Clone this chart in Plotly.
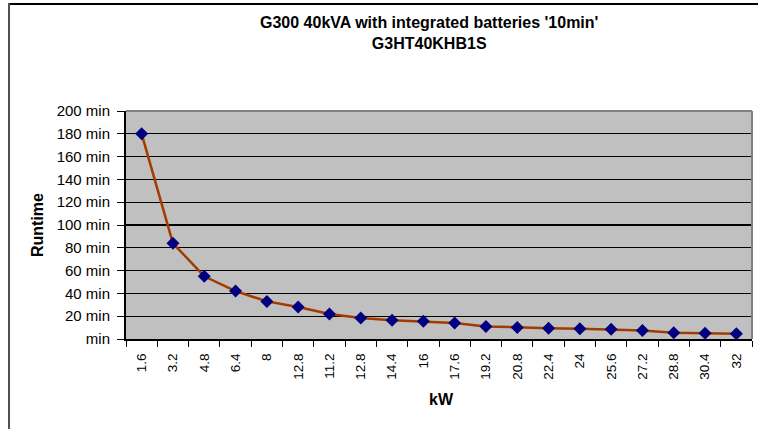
import plotly.graph_objects as go

kw_labels = ["1.6", "3.2", "4.8", "6.4", "8", "12.8", "11.2", "12.8", "14.4", "16",
             "17.6", "19.2", "20.8", "22.4", "24", "25.6", "27.2", "28.8", "30.4", "32"]
runtime_min = [180, 84, 55, 42, 33, 28, 22, 18.5, 16.5, 15.5,
               14, 11, 10, 9.5, 9, 8.5, 7.5, 5.5, 5, 4.5]
y_tick_vals = [0, 20, 40, 60, 80, 100, 120, 140, 160, 180, 200]
y_tick_text = ["min"] + [f"{v} min" for v in y_tick_vals[1:]]

x_idx = list(range(len(kw_labels)))

W, H = 758, 429
L, R, T, B = 126, 6, 111, 90
pw, ph = W - L - R, H - T - B

def px_x(x):
    return (x - L) / pw

def px_y(y):
    return (H - B - y) / ph

fig = go.Figure()
fig.add_trace(go.Scatter(
    x=x_idx, y=runtime_min, mode="lines+markers",
    line=dict(color="#A33A00", width=2.5),
    marker=dict(symbol="diamond", size=10, color="#000080"),
    showlegend=False, cliponaxis=False,
))

font = "Liberation Sans, Arial, sans-serif"
fig.update_layout(
    width=W, height=H,
    margin=dict(l=L, r=R, t=T, b=B),
    paper_bgcolor="white", plot_bgcolor="#C0C0C0",
    font=dict(family=font, color="black", size=12),
    xaxis=dict(
        range=[-0.5, len(kw_labels) - 0.5],
        tickmode="array", tickvals=x_idx, ticktext=kw_labels,
        tickangle=-90, ticks="", ticklen=0, ticklabelstandoff=7,
        showgrid=False, zeroline=False,
        showline=True, linecolor="black", linewidth=2,
        tickfont=dict(size=13.5),
        minor=dict(tickmode="array",
                   tickvals=[i - 0.5 for i in range(len(kw_labels) + 1)],
                   ticks="outside", ticklen=6, tickcolor="black", tickwidth=1,
                   showgrid=False),
        fixedrange=True,
    ),
    yaxis=dict(
        range=[0, 200],
        tickmode="array", tickvals=y_tick_vals, ticktext=y_tick_text,
        ticks="outside", ticklen=7, tickcolor="black", ticklabelstandoff=4,
        showgrid=True, gridcolor="black", gridwidth=1.3,
        zeroline=False,
        showline=True, linecolor="black", linewidth=2,
        tickfont=dict(size=15),
        fixedrange=True,
    ),
    shapes=[
        dict(type="line", xref="paper", yref="paper", x0=0, x1=1, y0=1, y1=1,
             line=dict(color="#808080", width=2)),
        dict(type="line", xref="paper", yref="paper", x0=1, x1=1, y0=0, y1=1,
             line=dict(color="#808080", width=2)),
        dict(type="line", xref="paper", yref="paper",
             x0=px_x(8), x1=px_x(W + 10), y0=px_y(4), y1=px_y(4),
             line=dict(color="black", width=2)),
        dict(type="line", xref="paper", yref="paper",
             x0=px_x(9), x1=px_x(9), y0=px_y(3), y1=px_y(H + 10),
             line=dict(color="#505050", width=2)),
    ],
    annotations=[
        dict(text="<b>G300 40kVA with integrated batteries '10min'<br>G3HT40KHB1S</b>",
             xref="paper", yref="paper", x=px_x(429), y=px_y(32.5),
             xanchor="center", yanchor="middle", showarrow=False,
             font=dict(size=16, family=font)),
        dict(text="<b>kW</b>", xref="paper", yref="paper",
             x=px_x(441), y=px_y(399), xanchor="center", yanchor="middle",
             showarrow=False, font=dict(size=16, family=font)),
        dict(text="<b>Runtime</b>", xref="paper", yref="paper",
             x=px_x(37), y=px_y(225), xanchor="center", yanchor="middle",
             textangle=-90, showarrow=False, font=dict(size=16, family=font)),
    ],
)

fig.write_html("out.html", post_script="document.body.style.margin='0';",
               config={"displayModeBar": False, "staticPlot": True})
